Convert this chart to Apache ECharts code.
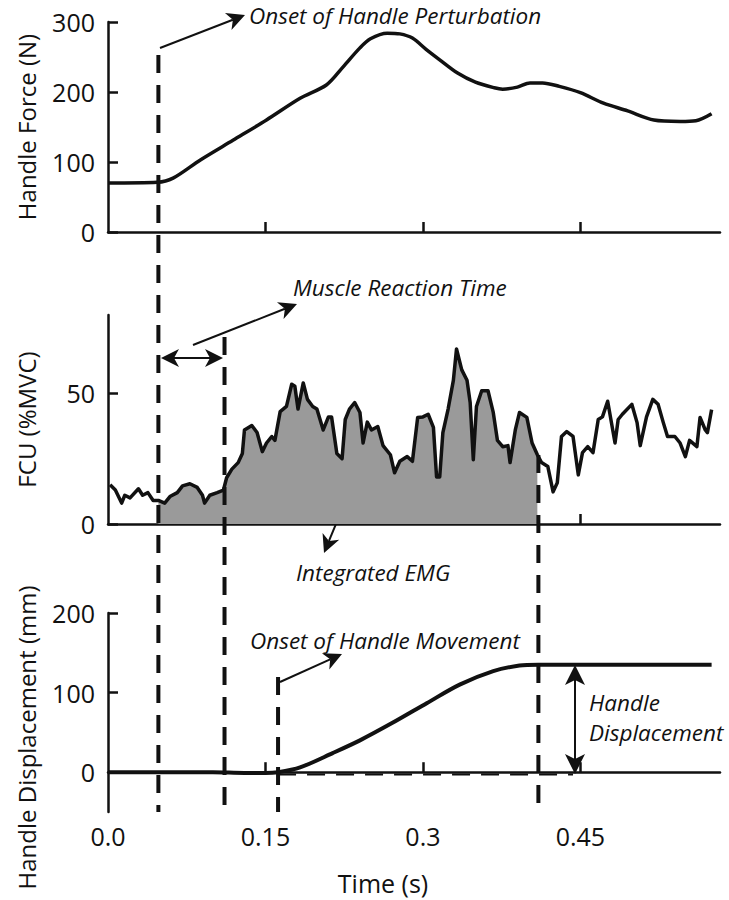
<!DOCTYPE html>
<html><head><meta charset="utf-8">
<script src="https://cdn.jsdelivr.net/npm/echarts@6/dist/echarts.min.js"></script>
<style>html,body{margin:0;padding:0;background:#fff}#c{width:729px;height:900px}</style>
</head><body><div id="c"></div>
<script>
// ---- data ----
const forceTime = [0.000,0.047,0.062,0.088,0.119,0.151,0.183,0.208,0.224,0.240,0.250,0.266,0.278,0.290,0.303,0.316,0.333,0.350,0.368,0.376,0.390,0.402,0.414,0.430,0.450,0.472,0.495,0.520,0.545,0.560,0.575];
const forceValues = [70,71,77,103,131,160,191,210,236,263,276,284,283,277,261,246,227,214,206,204,207,213,213,208,199,184,173,160,158,159,169];

const emgTime = [0.002,0.007,0.013,0.016,0.021,0.029,0.033,0.038,0.043,0.048,
0.054,0.059,0.066,0.071,0.078,0.085,0.090,0.092,0.097,0.104,
0.110,0.113,0.118,0.124,0.128,0.130,0.137,0.142,0.147,0.151,
0.156,0.159,0.164,0.170,0.175,0.178,0.181,0.186,0.190,0.195,
0.199,0.205,0.210,0.213,0.218,0.223,0.226,0.230,0.235,0.240,
0.243,0.247,0.251,0.257,0.262,0.269,0.273,0.278,0.285,0.290,
0.295,0.300,0.305,0.310,0.313,0.316,0.319,0.324,0.329,0.332,
0.337,0.342,0.345,0.348,0.351,0.356,0.362,0.367,0.371,0.376,
0.381,0.383,0.388,0.392,0.399,0.404,0.409,0.413,0.419,0.424,
0.428,0.432,0.437,0.443,0.448,0.452,0.457,0.462,0.467,0.471,
0.476,0.483,0.486,0.490,0.499,0.504,0.507,0.513,0.519,0.524,
0.529,0.533,0.540,0.545,0.550,0.554,0.561,0.564,0.569,0.571,
0.575];
const emgValues = [15,13,8,11,10,13.5,11,12,9,9,
8,10.5,12,14.6,15.4,14,11,8,11,12,
13,17.7,21,23.5,27,36,37.7,35,27.7,31,
33.5,32,43,45,53.5,52.7,44,54,47.7,45,
44,36,41,41,27,25,40,44,46.5,42.7,
31,39,36,37.3,30,26.5,19.6,24,25.8,24,
40.8,41,42,37,18,18,35,44,55,67,
59,55,46.5,24.6,45,51,51,42.7,32,29.6,
30,23.5,36,42.7,40.8,31,26.5,23.5,22,12.3,
15.8,33.5,35.4,33.5,18.8,27.3,29.6,27.3,40,41,
47,31,40,42,45.8,38.8,30,41,47.7,45.8,
38.8,33.5,33.5,31,25.8,32,29.6,40.8,36,35,
43.8];

const dispTime = [0.000,0.050,0.100,0.130,0.150,0.162,0.183,0.214,0.240,0.271,0.304,0.335,0.367,0.392,0.410,0.462,0.520,0.575];
const dispValues = [0,0,0,-1,-1,0,6,24,40,62,87,110,127,134,135,135,135,135];

const xTickValues = [0, 0.15, 0.3, 0.45];
const xTickLabels = ['0.0', '0.15', '0.3', '0.45'];
const forceTicks = [0, 100, 200, 300];
const emgTicks = [0, 50];
const dispTicks = [0, 100, 200];

// event times (s)
const onsetPerturbation = 0.048;
const muscleOnset = 0.111;
const movementOnset = 0.162;
const emgEnd = 0.410;
const dispArrowTime = 0.443;
const baselineLevel = [-3, -3];

// ---- styling ----
const FONT = 'Open Sans';
const INK = '#111';
const X_MAX = 0.583;
const LEFT = 108, RIGHT = 9;
const TICK_FS = 25, NAME_FS = 24, NOTE_FS = 22.5;

const zip = (a, b) => a.map((v, i) => [v, b[i]]);

function xAxisFor(i, showLabels) {
  return {
    type: 'value', gridIndex: i, min: 0, max: X_MAX,
    axisLine: { lineStyle: { color: INK, width: 2.5 } },
    axisTick: { inside: true, length: 10, lineStyle: { color: INK, width: 2.5 }, customValues: xTickValues.slice(1) },
    axisLabel: showLabels ? {
      customValues: xTickValues, margin: 11, fontSize: TICK_FS, fontFamily: FONT, color: INK,
      formatter: v => xTickLabels[xTickValues.findIndex(t => Math.abs(t - v) < 1e-9)] || ''
    } : { show: false },
    splitLine: { show: false },
    name: showLabels ? 'Time (s)' : '',
    nameLocation: 'middle', nameGap: 58,
    nameTextStyle: { fontSize: NAME_FS + 1, fontFamily: FONT, color: INK, padding: [0, 62, 0, 0] }
  };
}
function yAxisFor(i, min, max, ticks, name, pad) {
  return {
    type: 'value', gridIndex: i, min, max,
    axisLine: { show: true, lineStyle: { color: INK, width: 2.5 } },
    axisTick: { show: true, inside: true, length: 10, lineStyle: { color: INK, width: 2.5 }, customValues: ticks },
    axisLabel: { customValues: ticks, margin: 13, fontSize: TICK_FS, fontFamily: FONT, color: INK },
    splitLine: { show: false },
    name, nameLocation: 'middle', nameGap: 70,
    nameTextStyle: { fontSize: NAME_FS, fontFamily: FONT, color: INK, padding: pad || 0 }
  };
}

// overlay: annotations spanning panels (y in page pixels)
const markerTimes = [onsetPerturbation, muscleOnset, movementOnset, emgEnd];
const markerTops = [55, 337, 677, 455];
const markerBottom = 812;

function head(tx, ty, fx, fy, L, W) {
  const a = Math.atan2(ty - fy, tx - fx), c = Math.cos(a), s = Math.sin(a), N = 5;
  return {
    type: 'polygon', silent: true,
    shape: { points: [[tx, ty], [tx - L * c + W * s, ty - L * s - W * c], [tx - (L - N) * c, ty - (L - N) * s], [tx - L * c - W * s, ty - L * s + W * c]] },
    style: { fill: INK }
  };
}
function arrow(x1, y1, x2, y2, both, L, W) {
  L = L || 18; W = W || 9;
  const a = Math.atan2(y2 - y1, x2 - x1), c = Math.cos(a), s = Math.sin(a);
  const sx = both ? x1 + (L - 5) * c : x1, sy = both ? y1 + (L - 5) * s : y1;
  const ex = x2 - (L - 5) * c, ey = y2 - (L - 5) * s;
  const els = [{ type: 'line', silent: true, shape: { x1: sx, y1: sy, x2: ex, y2: ey }, style: { stroke: INK, lineWidth: 2 } }, head(x2, y2, x1, y1, L, W)];
  if (both) els.push(head(x1, y1, x2, y2, L, W));
  return els;
}
function label(text, x, y) {
  return { type: 'text', x, y, silent: true, style: { text, fontSize: NOTE_FS, fontStyle: 'italic', fontFamily: FONT, fill: INK, align: 'left', verticalAlign: 'middle' } };
}

const chart = echarts.init(document.getElementById('c'), null, { renderer: 'svg' });

const series = [
  { type: 'line', xAxisIndex: 0, yAxisIndex: 0, data: zip(forceTime, forceValues), smooth: 0.3, showSymbol: false, lineStyle: { color: INK, width: 3.5 }, z: 3 },
  { type: 'line', xAxisIndex: 1, yAxisIndex: 1, data: zip(emgTime, emgValues).filter(p => p[0] >= onsetPerturbation && p[0] <= emgEnd), showSymbol: false, lineStyle: { width: 0 }, areaStyle: { color: '#9a9a9a', opacity: 1 }, z: 1 },
  { type: 'line', xAxisIndex: 1, yAxisIndex: 1, data: zip(emgTime, emgValues), showSymbol: false, lineStyle: { color: INK, width: 3.5, join: 'round' }, z: 3 },
  { type: 'line', xAxisIndex: 2, yAxisIndex: 2, data: zip([movementOnset, dispArrowTime], baselineLevel), showSymbol: false, silent: true, lineStyle: { color: INK, width: 2, type: [18, 11] }, z: 2 },
  { type: 'line', xAxisIndex: 2, yAxisIndex: 2, data: zip(dispTime, dispValues), smooth: 0.3, showSymbol: false, lineStyle: { color: INK, width: 4 }, z: 3 }
];
markerTimes.forEach((t, i) => {
  series.push({ type: 'line', xAxisIndex: 3, yAxisIndex: 3, data: [[t, markerTops[i]], [t, markerBottom]], showSymbol: false, silent: true,
    lineStyle: { color: INK, width: 4, type: [18, 12] }, z: 4 });
});

const graphics = [].concat(
  arrow(160, 48, 245, 15, false),
  [label('Onset of Handle Perturbation', 249, 15)],
  arrow(193, 345, 297, 304, false),
  [label('Muscle Reaction Time', 293, 287)],
  arrow(161, 358, 223, 358, true),
  arrow(348, 495, 324, 553, false),
  [label('Integrated EMG', 296, 572)],
  arrow(280, 682, 342, 654, false),
  [label('Onset of Handle Movement', 250, 640)],
  arrow(575, 665, 575, 774, true, 20, 10),
  [label('Handle', 589, 702), label('Displacement', 589, 732)]
);

chart.setOption({
  backgroundColor: '#fff',
  animation: false,
  textStyle: { fontFamily: FONT },
  grid: [
    { left: LEFT, right: RIGHT, top: 22, height: 210 },
    { left: LEFT, right: RIGHT, top: 315, height: 209 },
    { left: LEFT, right: RIGHT, top: 613, height: 199 },
    { left: LEFT, right: RIGHT, top: 0, height: 900 }
  ],
  xAxis: [xAxisFor(0, false), xAxisFor(1, false), xAxisFor(2, true),
    { type: 'value', gridIndex: 3, min: 0, max: X_MAX, show: false }],
  yAxis: [
    yAxisFor(0, 0, 300, forceTicks, 'Handle Force (N)'),
    yAxisFor(1, 0, 80, emgTicks, 'FCU (%MVC)'),
    yAxisFor(2, -50, 200, dispTicks, 'Handle Displacement (mm)', [0, 50, 0, 0]),
    { type: 'value', gridIndex: 3, min: 0, max: 900, inverse: true, show: false }
  ],
  series,
  graphic: graphics
});
</script>
</body></html>
